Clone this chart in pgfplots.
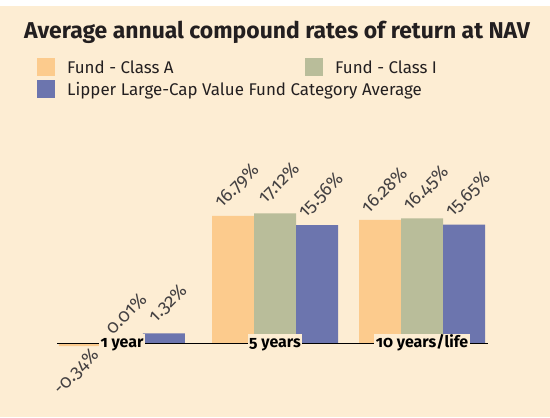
\documentclass[border=0pt]{standalone}
\usepackage{fontspec}
\setmainfont{Fira Sans}[Numbers=OldStyle]
\usepackage{pgfplots}
\pgfplotsset{compat=1.18}
\pgfdeclarelayer{background}
\pgfsetlayers{background,main}
\definecolor{bg}{HTML}{FDEDD3}
\definecolor{cA}{HTML}{FCCB8D}
\definecolor{cI}{HTML}{B9BD9A}
\definecolor{cL}{HTML}{6C75AE}
\definecolor{txt}{HTML}{231F20}
\begin{document}
\begin{tikzpicture}[x=1bp,y=1bp]
\begin{axis}[
  name=ax,
  scale only axis, width=430.5bp, height=243.2bp,
  xmin=-0.4333, xmax=2.4367, ymin=-7, ymax=25,
  hide axis, clip=false,
  ybar=0pt, bar width=42bp,
  nodes near coords={\pgfmathprintnumber[assume math mode=true,fixed,precision=2,fixed zerofill]{\pgfplotspointmeta}\%},
  visualization depends on={rawy \as \rawy},
  every node near coord/.append style={rotate=45, anchor=center, text=txt!85,
     font=\fontsize{18.5}{21}\selectfont,
     xshift={ifthenelse(\rawy<0,-21,24)}, yshift={ifthenelse(\rawy<0,-15.5,18.5)}},
  legend columns=2,
  legend image code/.code={\fill[#1] (0bp,-9bp) rectangle (18bp,9bp);},
  legend style={at={(-0.0465,1.3927)}, anchor=north west, draw=none, fill=none,
     inner sep=0pt, column sep=12bp, row sep=4bp, nodes={inner sep=0pt},
     font=\fontsize{17}{21}\selectfont, text=txt},
]
\addplot[fill=cA, draw=none] coordinates {(0,-0.34) (1.02,16.79) (2,16.28)};
\addlegendentry{\makebox[226bp][l]{\strut Fund - Class A}}
\addplot[fill=cI, draw=none] coordinates {(0,0.01) (1.02,17.12) (2,16.45)};
\addlegendentry{\strut Fund - Class I}
\addplot[fill=cL, draw=none] coordinates {(0,1.32) (1.02,15.56) (2,15.65)};
\addlegendentry{\makebox[226bp][l]{\strut Lipper Large-Cap Value Fund Category Average}}
\draw[black, line width=1.3bp] (axis cs:-0.4333,0) -- (axis cs:2.4367,0);
\path[font=\bfseries\fontsize{16}{19}\selectfont, text=black]
  (axis cs:0,0) node[fill=bg, anchor=base, yshift=-4bp, inner xsep=1.5bp, inner ysep=0pt] {\strut 1 year}
  (axis cs:1.02,0) node[fill=bg, anchor=base, yshift=-4bp, inner xsep=1.5bp, inner ysep=0pt] {\strut 5 years}
  (axis cs:2,0) node[fill=bg, anchor=base, yshift=-4bp, inner xsep=1.5bp, inner ysep=0pt] {\strut 10 years/life};
\end{axis}
\begin{scope}[shift={(ax.south west)}]
\begin{pgfonlayer}{background}
\fill[bg] (-57,-20.3) rectangle (493,396.7);
\fill[white] (-57,390.7) rectangle (493,396.7);
\end{pgfonlayer}
\node[font=\bfseries\fontsize{23}{27}\selectfont, text=txt, anchor=base, inner sep=0pt] at (220,358.7) {Average annual compound rates of return at NAV};
\pgfresetboundingbox
\path[use as bounding box] (-57,-20.3) rectangle (493,396.7);
\end{scope}
\end{tikzpicture}
\end{document}
